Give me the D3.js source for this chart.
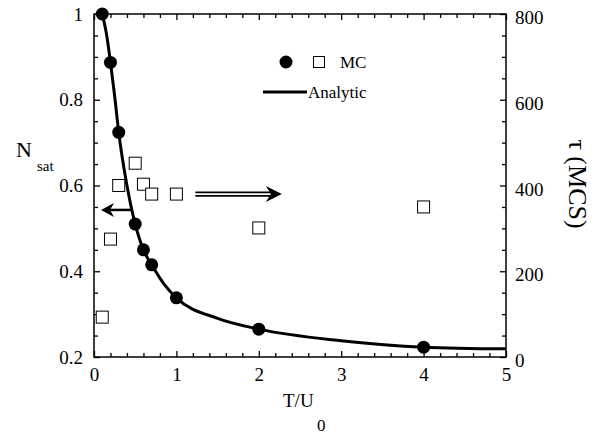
<!DOCTYPE html>
<html>
<head>
<meta charset="utf-8">
<script src="https://cdn.jsdelivr.net/npm/d3@7"></script>
<style>
  body { margin: 0; background: #fff; }
</style>
</head>
<body>
<svg id="chart"></svg>
<script>
// MC points, filled circles (left axis, N_sat)
const tSat = [0.1, 0.2, 0.3, 0.5, 0.6, 0.7, 1, 2, 4];
const nSat = [1.0, 0.887, 0.724, 0.51, 0.45, 0.415, 0.338, 0.265, 0.223];
// MC points, open squares (right axis, tau in MCS)
const tTau = [0.1, 0.2, 0.3, 0.5, 0.6, 0.7, 1, 2, 4];
const tau = [93, 275, 400, 452, 403, 380, 380, 301, 350];
// analytic curve
const tCurve = [0.1, 0.15, 0.2, 0.25, 0.3, 0.4, 0.5, 0.6, 0.7, 0.85, 1, 1.5, 2, 3, 4, 5];
const nCurve = [1.0, 0.955, 0.887, 0.81, 0.724, 0.6, 0.51, 0.45, 0.415, 0.37, 0.338, 0.29, 0.265, 0.238, 0.223, 0.219];

const xTicks = [0, 1, 2, 3, 4, 5];
const yTicks = [0.2, 0.4, 0.6, 0.8, 1];
const y2Ticks = [0, 200, 400, 600, 800];

const FONT = '"Liberation Serif", "Times New Roman", serif';
const W = 608, H = 434;
const margin = {top: 14, right: 102, bottom: 77, left: 94};
const iw = W - margin.left - margin.right;
const ih = H - margin.top - margin.bottom;

const svg = d3.select('#chart').attr('width', W).attr('height', H)
  .attr('font-family', FONT);
const g = svg.append('g').attr('transform', `translate(${margin.left},${margin.top})`);

const x = d3.scaleLinear().domain([0, 5]).range([0, iw]);
const y = d3.scaleLinear().domain([0.2, 1]).range([ih, 0]);
const y2 = d3.scaleLinear().domain([0, 800]).range([ih, 0]);

const xMinor = d3.range(0, 26).map(i => i / 5).filter(v => v % 1 !== 0);
const yMinor = d3.range(4, 21).map(i => i / 20).filter(v => Math.abs(v * 5 - Math.round(v * 5)) > 1e-6);
const y2Minor = d3.range(0, 17).map(i => i * 50).filter(v => v % 200 !== 0);

function styleAxis(sel) {
  sel.attr('font-family', FONT).attr('font-size', 19);
  sel.select('.domain').remove();
  sel.selectAll('line').attr('stroke', '#000').attr('stroke-width', 1.3);
  sel.selectAll('text').attr('fill', '#000');
}

// bottom axis
g.append('g').attr('transform', `translate(0,${ih})`)
  .call(d3.axisBottom(x).tickValues(xTicks).tickFormat(d3.format('d')).tickSize(-6).tickSizeOuter(0).tickPadding(11))
  .call(styleAxis);
g.append('g').attr('transform', `translate(0,${ih})`)
  .call(d3.axisBottom(x).tickValues(xMinor).tickFormat('').tickSize(-4).tickSizeOuter(0))
  .call(styleAxis);
// top axis
g.append('g')
  .call(d3.axisTop(x).tickValues(xTicks).tickFormat('').tickSize(-6).tickSizeOuter(0))
  .call(styleAxis);
g.append('g')
  .call(d3.axisTop(x).tickValues(xMinor).tickFormat('').tickSize(-4).tickSizeOuter(0))
  .call(styleAxis);
// left axis
g.append('g')
  .call(d3.axisLeft(y).tickValues(yTicks).tickFormat(d => d === 1 ? '1' : d3.format('.1f')(d)).tickSize(-6).tickSizeOuter(0).tickPadding(11))
  .call(styleAxis);
g.append('g')
  .call(d3.axisLeft(y).tickValues(yMinor).tickFormat('').tickSize(-4).tickSizeOuter(0))
  .call(styleAxis);
// right axis
const rAx = g.append('g').attr('transform', `translate(${iw},0)`)
  .call(d3.axisRight(y2).tickValues(y2Ticks).tickFormat(d3.format('d')).tickSize(-6).tickSizeOuter(0).tickPadding(9))
  .call(styleAxis);
rAx.selectAll('text').attr('dy', '0.5em');
g.append('g').attr('transform', `translate(${iw},0)`)
  .call(d3.axisRight(y2).tickValues(y2Minor).tickFormat('').tickSize(-4).tickSizeOuter(0))
  .call(styleAxis);

// frame
g.append('rect').attr('width', iw).attr('height', ih)
  .attr('fill', 'none').attr('stroke', '#000').attr('stroke-width', 1.5);

// analytic curve
const curveData = tCurve.map((t, i) => ({t: t, n: nCurve[i]}));
const line = d3.line().x(d => x(d.t)).y(d => y(d.n)).curve(d3.curveMonotoneX);
g.append('path').datum(curveData).attr('d', line)
  .attr('fill', 'none').attr('stroke', '#000').attr('stroke-width', 3);

// MC circles
g.selectAll('circle.sat').data(tSat.map((t, i) => ({t: t, n: nSat[i]})))
  .enter().append('circle').attr('class', 'sat')
  .attr('cx', d => x(d.t)).attr('cy', d => y(d.n)).attr('r', 6.5).attr('fill', '#000');

// MC squares
const sq = 12;
g.selectAll('rect.tau').data(tTau.map((t, i) => ({t: t, v: tau[i]})))
  .enter().append('rect').attr('class', 'tau')
  .attr('x', d => x(d.t) - sq / 2).attr('y', d => y2(d.v) - sq / 2)
  .attr('width', sq).attr('height', sq)
  .attr('fill', '#fff').attr('stroke', '#000').attr('stroke-width', 1);

// arrow pointing to left axis
{
  const yy = y(0.543), x0 = x(0.47), x1 = x(0.085);
  g.append('line').attr('x1', x0).attr('x2', x1 + 6).attr('y1', yy).attr('y2', yy)
    .attr('stroke', '#000').attr('stroke-width', 2.5);
  g.append('path')
    .attr('d', `M${x1},${yy} L${x1 + 13},${yy - 7} L${x1 + 9},${yy} L${x1 + 13},${yy + 7} Z`)
    .attr('fill', '#000');
}
// double arrow pointing to right axis
{
  const yy = y2(380), x0 = x(1.23), x1 = x(2.28);
  g.append('line').attr('x1', x0).attr('x2', x1 - 8).attr('y1', yy - 1.8).attr('y2', yy - 1.8)
    .attr('stroke', '#000').attr('stroke-width', 1.8);
  g.append('line').attr('x1', x0).attr('x2', x1 - 8).attr('y1', yy + 1.8).attr('y2', yy + 1.8)
    .attr('stroke', '#000').attr('stroke-width', 1.8);
  g.append('path')
    .attr('d', `M${x1},${yy} L${x1 - 16},${yy - 8} L${x1 - 11},${yy} L${x1 - 16},${yy + 8} Z`)
    .attr('fill', '#000');
}

// legend
svg.append('circle').attr('cx', 286).attr('cy', 62).attr('r', 6.5).attr('fill', '#000');
svg.append('rect').attr('x', 313.5).attr('y', 56.5).attr('width', 11).attr('height', 11)
  .attr('fill', '#fff').attr('stroke', '#000').attr('stroke-width', 1);
svg.append('text').attr('x', 340).attr('y', 68).attr('font-size', 17).text('MC');
svg.append('line').attr('x1', 263).attr('x2', 307).attr('y1', 92).attr('y2', 92)
  .attr('stroke', '#000').attr('stroke-width', 3);
svg.append('text').attr('x', 308).attr('y', 98).attr('font-size', 17).text('Analytic');

// axis titles
const nLab = svg.append('text').attr('x', 16).attr('y', 157).attr('font-size', 22);
nLab.append('tspan').text('N');
nLab.append('tspan').attr('x', 37).attr('y', 171).attr('font-size', 15).text('sat');

const tLab = svg.append('text').attr('x', 283).attr('y', 407).attr('font-size', 19);
tLab.append('tspan').text('T/U');
tLab.append('tspan').attr('x', 317).attr('y', 431).attr('font-size', 17).text('0');

svg.append('text').attr('transform', 'translate(578,184) rotate(90)')
  .attr('text-anchor', 'middle').attr('dy', '0.35em').attr('font-size', 26).text('τ (MCS)');
</script>
</body>
</html>
